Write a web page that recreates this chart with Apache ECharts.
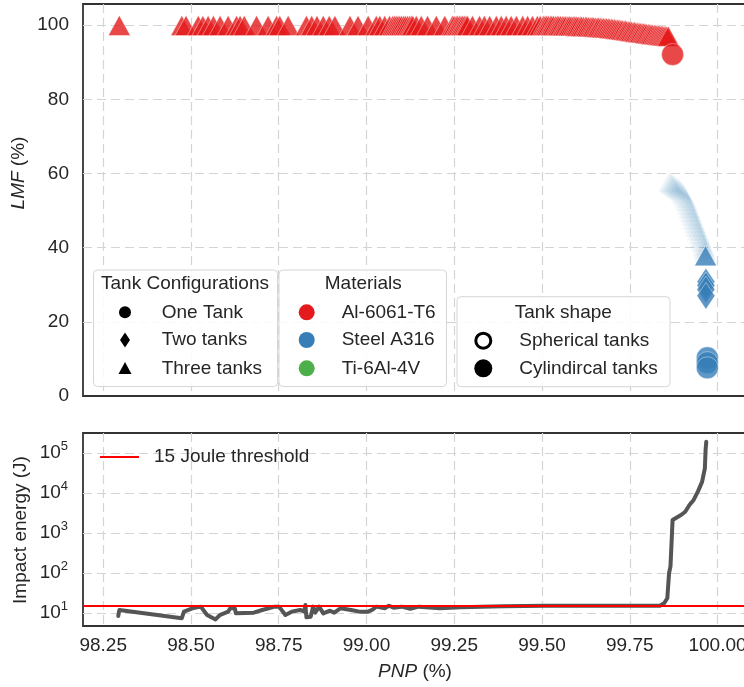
<!DOCTYPE html>
<html><head><meta charset="utf-8">
<script src="https://cdn.jsdelivr.net/npm/echarts@6/dist/echarts.min.js"></script>
<style>html,body{margin:0;padding:0;background:#fff;overflow:hidden}#c{width:744px;height:687px}</style>
</head><body><div id="c"></div>
<script>
// ---------- DATA ----------
// Al-6061-T6, three tanks  [PNP %, LMF %]
const alThreeTanks = [
[98.296,99.9],[98.474,99.9],[98.486,99.9],[98.521,99.9],[98.534,99.9],[98.549,99.9],[98.564,99.9],[98.583,99.9],[98.606,99.9],[98.630,99.9],
[98.640,99.9],[98.652,99.9],[98.687,99.9],[98.720,99.9],[98.744,99.9],[98.753,99.9],[98.777,99.9],[98.829,99.9],[98.844,99.9],[98.859,99.9],
[98.877,99.9],[98.894,99.9],[98.910,99.9],[98.953,99.9],[98.976,99.9],[99.005,99.9],[99.028,99.9],[99.038,99.9],[99.052,99.9],[99.066,99.9],
[99.075,99.9],[99.080,99.9],[99.085,99.9],[99.090,99.9],[99.095,99.9],[99.100,99.9],[99.106,99.9],[99.111,99.9],[99.117,99.9],[99.123,99.9],
[99.128,99.9],[99.132,99.9],[99.142,99.9],[99.156,99.9],[99.174,99.9],[99.199,99.9],[99.223,99.9],[99.245,99.9],[99.250,99.9],[99.256,99.9],
[99.260,99.9],[99.265,99.9],[99.270,99.9],[99.274,99.9],[99.279,99.9],[99.284,99.9],[99.288,99.9],[99.302,99.9],[99.322,99.9],[99.336,99.9],
[99.351,99.9],[99.370,99.9],[99.384,99.9],[99.398,99.9],[99.412,99.9],[99.427,99.9],[99.445,99.9],[99.459,99.9],[99.473,99.9],[99.487,99.9],
[99.495,99.9],[99.504,99.9],[99.509,99.9],[99.513,99.9],[99.518,99.9],[99.524,99.9],[99.528,99.9],[99.533,99.9],[99.539,99.85],[99.544,99.9],
[99.548,99.85],[99.553,99.85],[99.559,99.85],[99.563,99.8],[99.568,99.85],[99.574,99.8],[99.578,99.8],[99.583,99.75],[99.589,99.8],[99.594,99.75],
[99.598,99.7],[99.603,99.7],[99.609,99.7],[99.613,99.65],[99.618,99.6],[99.624,99.65],[99.628,99.6],[99.633,99.55],[99.638,99.5],[99.643,99.55],
[99.647,99.5],[99.652,99.45],[99.657,99.4],[99.661,99.45],[99.666,99.35],[99.671,99.3],[99.675,99.3],[99.680,99.25],[99.684,99.2],[99.689,99.2],
[99.693,99.1],[99.698,99.1],[99.702,99.0],[99.707,99.0],[99.711,98.9],[99.716,98.9],[99.720,98.8],[99.725,98.75],[99.729,98.7],[99.734,98.6],
[99.738,98.6],[99.742,98.5],[99.747,98.45],[99.751,98.4],[99.755,98.3],[99.760,98.25],[99.764,98.2],[99.768,98.1],[99.773,98.05],[99.777,98.0],
[99.781,97.95],[99.786,97.9],[99.790,97.85],[99.794,97.8],[99.798,97.7],[99.803,97.65],[99.807,97.6],[99.811,97.55],[99.815,97.5],[99.820,97.45],
[99.824,97.4],[99.828,97.35],[99.832,97.3],[99.836,97.25],[99.840,97.2],[99.844,97.15],[99.848,97.1],[99.852,97.05],[99.856,97.0],[99.860,97.0]
];
const alOneTank = [[99.872,92.1]];
// Steel A316
const steelThreeTanksFaint = [
[99.863,57.8],[99.868,57.4],[99.873,57.0],[99.878,56.7],[99.883,56.3],[99.888,56.0],[99.893,55.6],[99.898,55.1],[99.903,54.4],[99.908,53.5],
[99.912,52.6],[99.916,51.6],[99.920,50.6],[99.924,49.6],[99.928,48.6],[99.932,47.6],[99.936,46.6],[99.940,45.6],[99.944,44.6],[99.948,43.6],
[99.952,42.6],[99.956,41.6],[99.960,40.6],[99.963,39.8],[99.965,39.0]
];
const steelThreeTanks = [[99.966,37.8]];
const steelTwoTanks = [[99.967,30.8],[99.967,29.8],[99.967,28.7],[99.967,27.0]];
const steelOneTank = [[99.971,10.3],[99.971,9.0],[99.971,7.6]];
// Impact energy along the front [PNP %, J]
const impactEnergy = [
[98.293,8.4],[98.296,11.9],[98.474,7.4],[98.480,10.8],[98.504,13.1],[98.528,14.4],[98.546,8.9],[98.570,6.9],[98.582,8.9],[98.606,10.8],
[98.612,13.1],[98.625,13.1],[98.628,9.8],[98.679,10.2],[98.703,11.9],[98.739,14.4],[98.751,14.4],[98.769,8.9],[98.787,10.8],[98.811,11.9],
[98.823,10.8],[98.826,15.8],[98.829,7.8],[98.841,8.1],[98.848,14.4],[98.854,10.2],[98.865,14.4],[98.877,9.8],[98.896,11.4],[98.908,10.2],
[98.926,13.1],[98.956,11.9],[98.980,10.8],[99.004,10.8],[99.016,11.9],[99.028,14.4],[99.052,13.1],[99.064,15.2],[99.077,13.6],[99.100,14.4],
[99.125,12.8],[99.149,14.4],[99.209,13.1],[99.269,13.9],[99.329,14.4],[99.390,14.8],[99.510,15.2],[99.631,15.2],[99.836,15.2],[99.848,17.5],
[99.857,23.3],[99.862,100],[99.866,145],[99.872,2110],[99.884,2450],[99.896,2820],[99.908,3400],[99.920,5000],[99.932,6700],[99.944,10800],
[99.956,19000],[99.962,34000],[99.964,41500],[99.966,119000],[99.968,191000]
];
const thresholdJ = 15;
// Legend texts
const configLabels = ['One Tank','Two tanks','Three tanks'];
const materialLabels = ['Al-6061-T6','Steel A316','Ti-6Al-4V'];
const materialColors = ['#e41a1c','#377eb8','#4daf4a'];
const shapeLabels = ['Spherical tanks','Cylindircal tanks'];
const thresholdLabel = '15 Joule threshold';

// ---------- STYLE ----------
const FONT = '"Liberation Sans", Arial, Helvetica, sans-serif';
const FS = 19;
const TXT = '#262626';
const X_MIN = 98.1925, X_MAX = 100.084;
const gridLine = {show:true, showMinLine:false, showMaxLine:false, lineStyle:{type:[9,5], color:'#d4d4d4', width:1.2}};
const red = materialColors[0], blue = materialColors[1];
const edge = {borderColor:'#ffffff', borderWidth:0.5};

const chart = echarts.init(document.getElementById('c'), null, {renderer:'canvas'});

function legendBox(x,y,w,h){
  return {type:'rect', shape:{x:x,y:y,width:w,height:h,r:4}, style:{fill:'rgba(255,255,255,0.85)', stroke:'#d6d6d6', lineWidth:1}, z:100};
}
function txt(x,y,t,align){
  return {type:'text', x:x, y:y, style:{text:t, fill:TXT, font:FS+'px '+FONT, align:align||'left', verticalAlign:'middle'}, z:101};
}
const g = [];
// legend 1
g.push(legendBox(93.5,270,184,116.5));
g.push(txt(185,284,'Tank Configurations','center'));
g.push({type:'circle', shape:{cx:125,cy:312.3,r:6}, style:{fill:'#000'}, z:101});
g.push({type:'polygon', shape:{points:[[125,332.5],[130,340],[125,347.5],[120,340]]}, style:{fill:'#000'}, z:101});
g.push({type:'polygon', shape:{points:[[125,362],[131.5,374],[118.5,374]]}, style:{fill:'#000'}, z:101});
configLabels.forEach((l,i)=>g.push(txt(161.7,[312.3,340,368.3][i],l)));
// legend 2
g.push(legendBox(279,270,167.5,116.5));
g.push(txt(363.3,284,'Materials','center'));
materialLabels.forEach((l,i)=>{
  const yy=[312.3,340,368.3][i];
  g.push({type:'circle', shape:{cx:306.7,cy:yy,r:8}, style:{fill:materialColors[i]}, z:101});
  g.push(txt(341.7,yy,l));
});
// legend 3
g.push(legendBox(457,296.7,213,90));
g.push(txt(563.3,312.7,'Tank shape','center'));
g.push({type:'circle', shape:{cx:483.3,cy:340.7,r:7.5}, style:{fill:'#fff', stroke:'#000', lineWidth:3}, z:101});
g.push({type:'circle', shape:{cx:483.3,cy:368.3,r:9}, style:{fill:'#000'}, z:101});
shapeLabels.forEach((l,i)=>g.push(txt(519.3,[340.7,368.3][i],l)));
// lower legend
g.push({type:'line', shape:{x1:100,y1:457,x2:139,y2:457}, style:{stroke:'#ff0000', lineWidth:2}, z:101});
g.push(txt(154,457,thresholdLabel));
// y-axis titles
g.push({type:'text', x:19, y:173, rotation:Math.PI/2, style:{text:'{i|LMF} (%)', fill:TXT, font:FS+'px '+FONT, align:'center', verticalAlign:'middle', rich:{i:{fontStyle:'italic', fontSize:FS, fontFamily:FONT, fill:TXT}}}, z:101});
g.push({type:'text', x:21, y:530, rotation:Math.PI/2, style:{text:'Impact energy (J)', fill:TXT, font:FS+'px '+FONT, align:'center', verticalAlign:'middle'}, z:101});

const xBase = {type:'value', min:X_MIN, max:X_MAX, minInterval:0.25, maxInterval:0.25,
  axisTick:{show:false}, axisLine:{show:false}, splitLine:gridLine};

const option = {
  animation:false,
  textStyle:{fontFamily:FONT},
  grid:[
    {left:83, width:664, top:4, height:392, show:true, borderColor:'#333', borderWidth:1.8, containLabel:false, outerBoundsMode:'none'},
    {left:83, width:664, top:433, height:193, show:true, borderColor:'#333', borderWidth:1.8, containLabel:false, outerBoundsMode:'none'}
  ],
  xAxis:[
    Object.assign({gridIndex:0, axisLabel:{show:false}}, xBase),
    Object.assign({gridIndex:1,
      axisLabel:{show:true, fontSize:FS, color:TXT, margin:10, fontFamily:FONT, showMinLabel:false, showMaxLabel:false,
        formatter:v=>v.toFixed(2)},
      name:'{i|PNP} (%)', nameLocation:'middle', nameGap:36,
      nameTextStyle:{fontSize:FS, color:TXT, fontFamily:FONT, rich:{i:{fontStyle:'italic', fontSize:FS, color:TXT, fontFamily:FONT}}}
    }, xBase)
  ],
  yAxis:[
    {type:'value', gridIndex:0, min:0, max:105.7, interval:20, axisTick:{show:false}, axisLine:{show:false}, splitLine:gridLine,
      axisLabel:{fontSize:FS, color:TXT, margin:14, fontFamily:FONT, showMaxLabel:false}},
    {type:'log', logBase:10, gridIndex:1, min:4.73, max:316000, axisTick:{show:false}, axisLine:{show:false}, splitLine:gridLine,
      axisLabel:{margin:15, showMinLabel:false, showMaxLabel:false,
        formatter:v=>'{b|10}{s|'+Math.round(Math.log10(v))+'}',
        rich:{b:{fontSize:FS, color:TXT, fontFamily:FONT, lineHeight:26}, s:{fontSize:13, color:TXT, fontFamily:FONT, lineHeight:14, verticalAlign:'top'}}}}
  ],
  series:[
    {type:'scatter', xAxisIndex:0, yAxisIndex:0, data:alThreeTanks, symbol:'triangle', symbolSize:[22,20], itemStyle:Object.assign({color:red}, edge), z:3},
    {type:'scatter', xAxisIndex:0, yAxisIndex:0, data:alOneTank, symbol:'circle', symbolSize:22, itemStyle:Object.assign({color:red}, edge), z:4},
    {type:'scatter', xAxisIndex:0, yAxisIndex:0, data:steelThreeTanksFaint, symbol:'triangle', symbolSize:[22,20], itemStyle:Object.assign({color:blue, opacity:0.08}, edge), z:3},
    {type:'scatter', xAxisIndex:0, yAxisIndex:0, data:steelThreeTanks, symbol:'triangle', symbolSize:[22,20], itemStyle:Object.assign({color:blue}, edge), z:4},
    {type:'scatter', xAxisIndex:0, yAxisIndex:0, data:steelTwoTanks, symbol:'diamond', symbolSize:[18,27], itemStyle:Object.assign({color:blue}, edge), z:4},
    {type:'scatter', xAxisIndex:0, yAxisIndex:0, data:steelOneTank, symbol:'circle', symbolSize:22, itemStyle:Object.assign({color:blue}, edge), z:4},
    {type:'line', xAxisIndex:1, yAxisIndex:1, data:[], z:2, silent:true,
      markLine:{silent:true, symbol:'none', label:{show:false}, lineStyle:{color:'#ff0000', width:2, type:'solid'}, data:[{yAxis:thresholdJ}]}},
    {type:'line', xAxisIndex:1, yAxisIndex:1, data:impactEnergy, showSymbol:false, symbol:'none', z:3,
      lineStyle:{color:'#555555', width:4, cap:'round', join:'round'}}
  ],
  graphic:g
};
chart.setOption(option);
</script></body></html>
